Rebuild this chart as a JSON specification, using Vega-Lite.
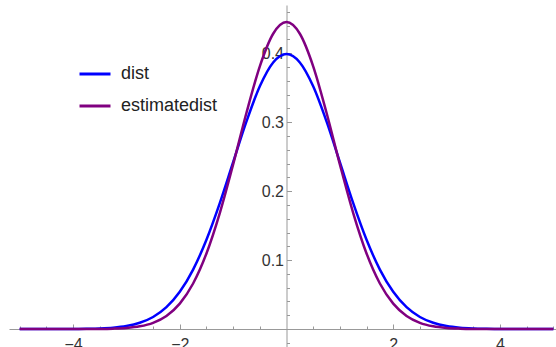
{
  "$schema": "https://vega.github.io/schema/vega-lite/v6.json",
  "autosize": {"type": "none"},
  "width": 547,
  "height": 342,
  "padding": {"left": 9, "top": 5, "right": 0, "bottom": 0},
  "background": "white",
  "config": {"view": {"stroke": null}, "font": "Liberation Sans"},
  "data": {"values": [
    {"x": -5, "series": "dist", "y": 0},
    {"x": -4.5, "series": "dist", "y": 0},
    {"x": -4, "series": "dist", "y": 0.0001},
    {"x": -3.75, "series": "dist", "y": 0.0004},
    {"x": -3.5, "series": "dist", "y": 0.0009},
    {"x": -3.25, "series": "dist", "y": 0.0020},
    {"x": -3, "series": "dist", "y": 0.0044},
    {"x": -2.75, "series": "dist", "y": 0.0091},
    {"x": -2.5, "series": "dist", "y": 0.0175},
    {"x": -2.25, "series": "dist", "y": 0.0317},
    {"x": -2, "series": "dist", "y": 0.0540},
    {"x": -1.75, "series": "dist", "y": 0.0863},
    {"x": -1.5, "series": "dist", "y": 0.1295},
    {"x": -1.25, "series": "dist", "y": 0.1826},
    {"x": -1, "series": "dist", "y": 0.2420},
    {"x": -0.75, "series": "dist", "y": 0.3011},
    {"x": -0.5, "series": "dist", "y": 0.3521},
    {"x": -0.25, "series": "dist", "y": 0.3867},
    {"x": 0, "series": "dist", "y": 0.3989},
    {"x": 0.25, "series": "dist", "y": 0.3867},
    {"x": 0.5, "series": "dist", "y": 0.3521},
    {"x": 0.75, "series": "dist", "y": 0.3011},
    {"x": 1, "series": "dist", "y": 0.2420},
    {"x": 1.25, "series": "dist", "y": 0.1826},
    {"x": 1.5, "series": "dist", "y": 0.1295},
    {"x": 1.75, "series": "dist", "y": 0.0863},
    {"x": 2, "series": "dist", "y": 0.0540},
    {"x": 2.25, "series": "dist", "y": 0.0317},
    {"x": 2.5, "series": "dist", "y": 0.0175},
    {"x": 2.75, "series": "dist", "y": 0.0091},
    {"x": 3, "series": "dist", "y": 0.0044},
    {"x": 3.25, "series": "dist", "y": 0.0020},
    {"x": 3.5, "series": "dist", "y": 0.0009},
    {"x": 3.75, "series": "dist", "y": 0.0004},
    {"x": 4, "series": "dist", "y": 0.0001},
    {"x": 4.5, "series": "dist", "y": 0},
    {"x": 5, "series": "dist", "y": 0},
    {"x": -5, "series": "estimatedist", "y": 0},
    {"x": -4.5, "series": "estimatedist", "y": 0},
    {"x": -4, "series": "estimatedist", "y": 0},
    {"x": -3.75, "series": "estimatedist", "y": 0.0001},
    {"x": -3.5, "series": "estimatedist", "y": 0.0002},
    {"x": -3.25, "series": "estimatedist", "y": 0.0006},
    {"x": -3, "series": "estimatedist", "y": 0.0016},
    {"x": -2.75, "series": "estimatedist", "y": 0.0040},
    {"x": -2.5, "series": "estimatedist", "y": 0.0091},
    {"x": -2.25, "series": "estimatedist", "y": 0.0190},
    {"x": -2, "series": "estimatedist", "y": 0.0369},
    {"x": -1.75, "series": "estimatedist", "y": 0.0661},
    {"x": -1.5, "series": "estimatedist", "y": 0.1097},
    {"x": -1.25, "series": "estimatedist", "y": 0.1683},
    {"x": -1, "series": "estimatedist", "y": 0.2389},
    {"x": -0.75, "series": "estimatedist", "y": 0.3137},
    {"x": -0.5, "series": "estimatedist", "y": 0.3811},
    {"x": -0.25, "series": "estimatedist", "y": 0.4283},
    {"x": 0, "series": "estimatedist", "y": 0.4453},
    {"x": 0.25, "series": "estimatedist", "y": 0.4283},
    {"x": 0.5, "series": "estimatedist", "y": 0.3811},
    {"x": 0.75, "series": "estimatedist", "y": 0.3137},
    {"x": 1, "series": "estimatedist", "y": 0.2389},
    {"x": 1.25, "series": "estimatedist", "y": 0.1683},
    {"x": 1.5, "series": "estimatedist", "y": 0.1097},
    {"x": 1.75, "series": "estimatedist", "y": 0.0661},
    {"x": 2, "series": "estimatedist", "y": 0.0369},
    {"x": 2.25, "series": "estimatedist", "y": 0.0190},
    {"x": 2.5, "series": "estimatedist", "y": 0.0091},
    {"x": 2.75, "series": "estimatedist", "y": 0.0040},
    {"x": 3, "series": "estimatedist", "y": 0.0016},
    {"x": 3.25, "series": "estimatedist", "y": 0.0006},
    {"x": 3.5, "series": "estimatedist", "y": 0.0002},
    {"x": 3.75, "series": "estimatedist", "y": 0.0001},
    {"x": 4, "series": "estimatedist", "y": 0},
    {"x": 4.5, "series": "estimatedist", "y": 0},
    {"x": 5, "series": "estimatedist", "y": 0}
  ]},
  "resolve": {"axis": {"x": "independent", "y": "independent"}},
  "layer": [
    {
      "mark": {"type": "line", "opacity": 0},
      "encoding": {
        "x": {"field": "x", "type": "quantitative", "scale": {"domain": [-5.2, 5.05], "nice": false, "zero": false},
          "axis": {"orient": "bottom", "offset": -18, "values": [-5,-4.5,-4,-3.5,-3,-2.5,-2,-1.5,-1,-0.5,0.5,1,1.5,2,2.5,3,3.5,4,4.5,5], "labels": false, "domain": false, "tickSize": -3, "tickColor": "#999999", "tickWidth": 1, "grid": false, "title": null}},
        "y": {"field": "y", "type": "quantitative", "scale": {"domain": [-0.026, 0.47], "nice": false, "zero": false},
          "axis": {"orient": "left", "offset": -277.5, "values": [-0.02,0.02,0.04,0.06,0.08,0.12,0.14,0.16,0.18,0.22,0.24,0.26,0.28,0.32,0.34,0.36,0.38,0.42,0.44,0.46], "labels": false, "domain": false, "tickSize": -3, "tickColor": "#999999", "tickWidth": 1, "grid": false, "title": null}},
        "detail": {"field": "series"}
      }
    },
    {
      "mark": {"type": "line", "opacity": 0},
      "encoding": {
        "x": {"field": "x", "type": "quantitative",
          "axis": {"orient": "bottom", "offset": -18, "values": [-4, -2, 2, 4], "labels": false, "domain": false, "tickSize": -5, "tickColor": "#999999", "tickWidth": 1, "grid": false, "title": null}},
        "y": {"field": "y", "type": "quantitative",
          "axis": {"orient": "left", "offset": -277.5, "values": [0.1, 0.2, 0.3, 0.4], "labels": false, "domain": false, "tickSize": -5, "tickColor": "#999999", "tickWidth": 1, "grid": false, "title": null}},
        "detail": {"field": "series"}
      }
    },
    {
      "mark": {"type": "line", "strokeWidth": 2.5, "interpolate": "monotone"},
      "encoding": {
        "x": {"field": "x", "type": "quantitative",
          "axis": {"orient": "bottom", "offset": -18, "values": [-4, -2, 2, 4], "ticks": false, "domain": true, "domainColor": "#999999", "domainWidth": 1, "labelPadding": 7, "labelFontSize": 16, "labelColor": "#333333", "labelFont": "Liberation Sans", "grid": false, "title": null}},
        "y": {"field": "y", "type": "quantitative",
          "axis": {"orient": "left", "offset": -277.5, "values": [0.1, 0.2, 0.3, 0.4], "format": ".1f", "ticks": false, "domain": true, "domainColor": "#999999", "domainWidth": 1, "labelPadding": 3, "labelFontSize": 16, "labelColor": "#333333", "labelFont": "Liberation Sans", "grid": false, "title": null}},
        "color": {"field": "series", "type": "nominal",
          "scale": {"domain": ["dist", "estimatedist"], "range": ["#0000ff", "#800080"]},
          "legend": {"orient": "none", "legendX": 69, "legendY": 52, "title": null, "symbolType": "stroke", "symbolSize": 961, "symbolStrokeWidth": 3, "labelFontSize": 18, "labelFont": "Liberation Sans", "labelColor": "#222222", "labelOffset": 9, "rowPadding": 6, "padding": 0}}
      }
    }
  ]
}
